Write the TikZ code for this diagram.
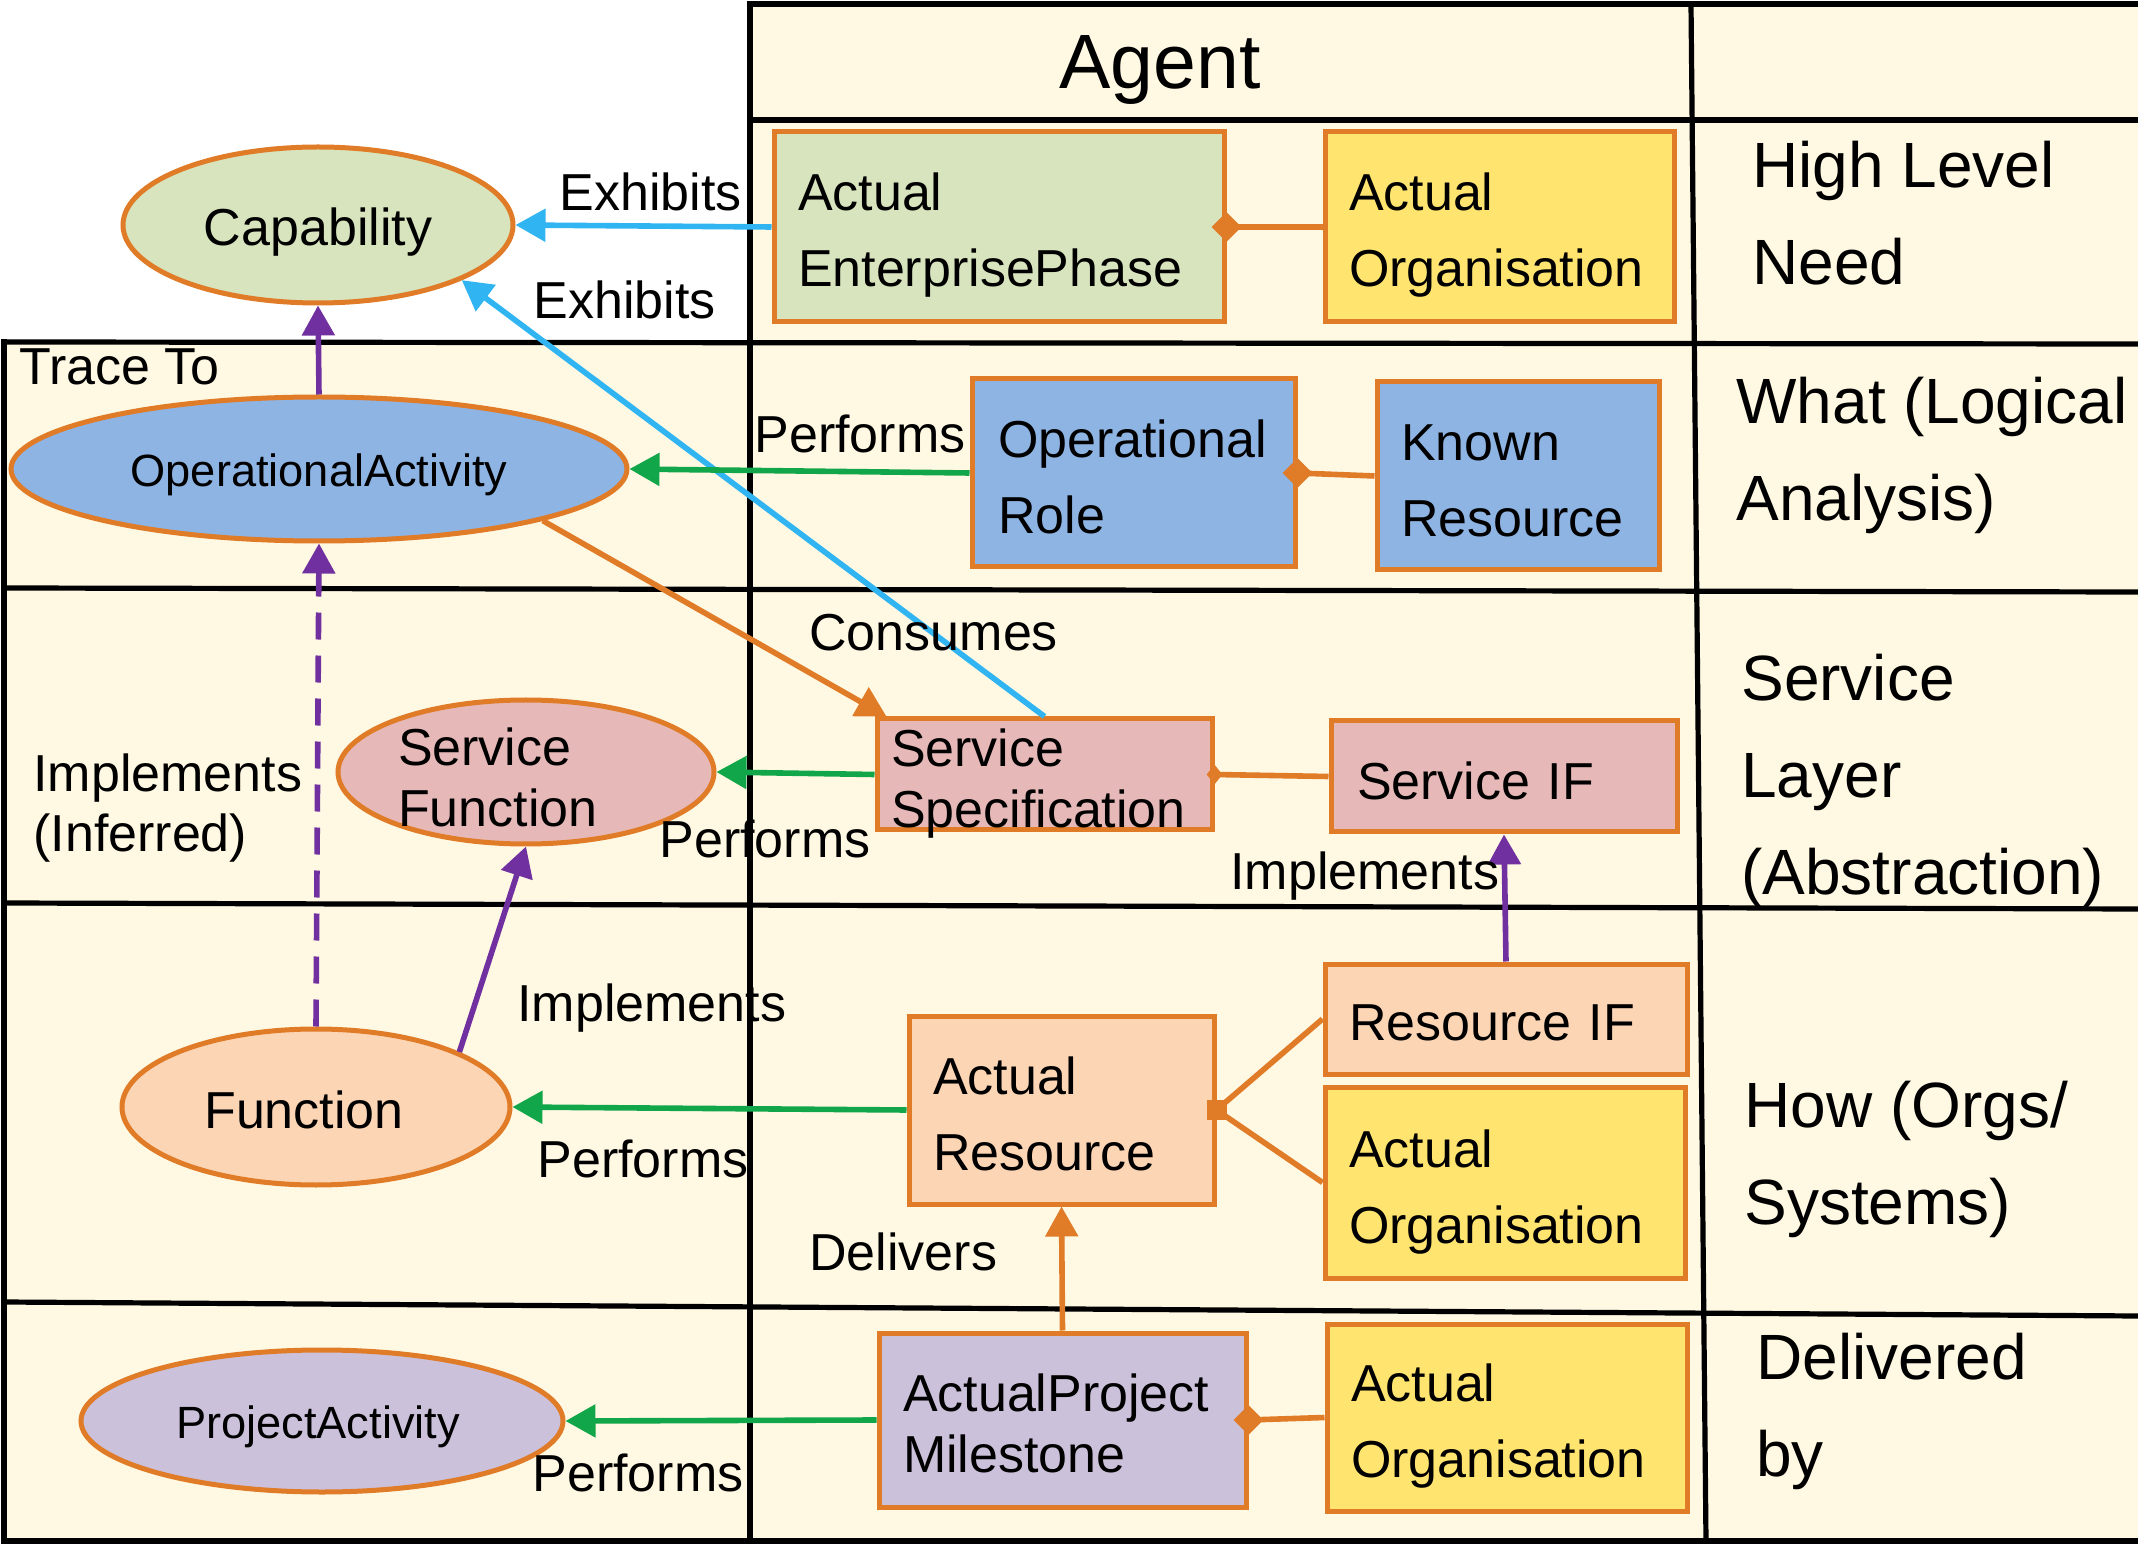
\documentclass[tikz,border=0pt]{standalone}
\usepackage{fontspec}
\setmainfont{Liberation Sans}
\usetikzlibrary{arrows.meta,shapes.geometric}
\definecolor{ocol}{HTML}{E07B28}
\definecolor{cblu}{HTML}{30B4F2}
\definecolor{cgrn}{HTML}{12A64A}
\definecolor{cpur}{HTML}{7030A0}
\definecolor{cream}{HTML}{FFF9E3}
\definecolor{cgreen}{HTML}{D7E4BD}
\definecolor{cyellow}{HTML}{FFE570}
\definecolor{cbluefill}{HTML}{8EB4E3}
\definecolor{cpink}{HTML}{E6B9B8}
\definecolor{cpeach}{HTML}{FCD5B5}
\definecolor{clav}{HTML}{CCC1DA}
\newcommand\fnode{\fontsize{26}{38}\selectfont}
\newcommand\fnodet{\fontsize{26}{30.7}\selectfont}
\newcommand\fsm{\fontsize{22.6}{27}\selectfont}
\newcommand\fside{\fontsize{32}{48.5}\selectfont}
\newcommand\fagent{\fontsize{38.5}{46}\selectfont}
\newcommand\finf{\fontsize{26}{30}\selectfont}
\newcommand\st[1]{\rule{0pt}{#1pt}}
\begin{document}
\begin{tikzpicture}[x=0.5pt,y=-0.5pt,
  tline/.style={line width=2.6pt,black,line cap=rect},
  box/.style={draw=ocol,line width=2.5pt,inner xsep=12pt,inner ysep=0pt,align=left,font=\fnode},
  ell/.style={ellipse,draw=ocol,line width=2.5pt,inner sep=0pt,font=\fnode},
  lbl/.style={font=\fnode,inner sep=0pt,anchor=west},
  side/.style={font=\fside,align=left,inner sep=0pt,anchor=west},
  arr/.style={line width=2.8pt,-{Triangle[length=15pt,width=16pt]}},
  arrblue/.style={arr,draw=cblu},
  arrgreen/.style={arr,draw=cgrn},
  arrpurple/.style={arr,draw=cpur},
  arrorange/.style={arr,draw=ocol},
  conn/.style={draw=ocol,line width=2.8pt},
  diam/.style={diamond,fill=ocol,inner sep=0pt,minimum width=15pt,minimum height=15pt}]
\useasboundingbox (0,0) rectangle (2138,1545);
% table background
\fill[cream] (750,4) rectangle (2138,1541);
\fill[cream] (4,341) rectangle (750,1541);
% table lines
\draw[tline] (750,4) -- (2138,4);
\draw[tline] (750,120) -- (2138,120);
\draw[tline] (4,342) -- (2138,344);
\draw[tline] (4,588) -- (2138,592);
\draw[tline] (4,903) -- (2138,909);
\draw[tline] (4,1302) -- (2138,1316);
\draw[tline] (4,1541) -- (2138,1541);
\draw[tline] (4,342) -- (4,1541);
\draw[tline] (750,4) -- (750,1541);
\draw[tline] (1691,4) -- (1706,1541);
% nodes
\node[ell,fill=cgreen,minimum width=195pt,minimum height=78pt] (cap) at (318,225) {\st{26}Capability};
\node[ell,fill=cbluefill,minimum width=308pt,minimum height=72pt,font=\fsm] (oa) at (319,469) {\st{22}OperationalActivity};
\node[ell,fill=cpink,minimum width=188pt,minimum height=72pt,font=\fnodet,text width=128pt,align=left,inner sep=-5pt] (sf) at (526,772) {\st{24.5}Service\\Function};
\node[ell,fill=cpeach,minimum width=194pt,minimum height=78pt] (fn) at (316,1107) {\st{22}Function\hspace*{12pt}};
\node[ell,fill=clav,minimum width=241pt,minimum height=71pt,font=\fsm] (pa) at (322,1421) {\st{22}ProjectActivity\hspace*{4pt}};

\node[box,fill=cgreen,text width=201pt,minimum height=95pt] (ep) at (999,227) {\st{27}Actual\\EnterprisePhase};
\node[box,fill=cyellow,text width=150.5pt,minimum height=95pt] (ao1) at (1499.5,227) {\st{27}Actual\\Organisation};
\node[box,fill=cbluefill,inner xsep=13pt,text width=135.5pt,minimum height=94pt] (or) at (1133.5,473) {\st{22.5}Operational\\Role};
\node[box,fill=cbluefill,text width=117pt,minimum height=94pt] (kr) at (1518,476) {\st{22.5}Known\\Resource};
\node[box,fill=cpink,inner xsep=7pt,text width=153.5pt,minimum height=55.5pt,font=\fnodet,inner ysep=-5pt] (ss) at (1044.5,774.5) {\st{28}Service\\Specification};
\node[box,fill=cpink,inner xsep=13pt,text width=147pt,minimum height=55.5pt] (sif) at (1504,776.5) {\st{23}Service IF};
\node[box,fill=cpeach,text width=128.5pt,minimum height=94pt] (ar) at (1061.5,1110) {\st{22.5}Actual\\Resource};
\node[box,fill=cpeach,text width=157pt,minimum height=55pt] (rif) at (1506,1019) {\st{22}Resource IF};
\node[box,fill=cyellow,text width=156pt,minimum height=95.5pt] (ao2) at (1505,1182.5) {\st{28}Actual\\Organisation};
\node[box,fill=clav,text width=159.5pt,minimum height=87pt,font=\fnodet] (apm) at (1062.5,1420) {\st{22}ActualProject\\Milestone};
\node[box,fill=cyellow,text width=156pt,minimum height=93.5pt] (ao3) at (1507,1417.5) {\st{27.5}Actual\\Organisation};

% connectors
\draw[conn] (ep.east) -- (ao1.west);
\draw[conn] (or.east) -- (kr.west);
\draw[conn] (ss.east) -- (sif.west);
\draw[conn] (ar.east) -- (rif.west);
\draw[conn] (ar.east) -- (ao2.west);
\draw[conn] (apm.east) -- (ao3.west);
\node[diam] (d1) at (ep.east) {};
\node[diam] (d2) at (or.east) {};
\node[diam,minimum width=8pt,minimum height=10pt] (d3) at (ss.east) {};
\node[rectangle,fill=ocol,inner sep=0pt,minimum width=10pt,minimum height=10pt] (d4) at (ar.east) {};
\node[diam] (d5) at (apm.east) {};

\draw[arrblue] (ep.west) -- (cap.east);
\draw[arrblue] (ss.north) -- (cap.-21);
\draw[arrpurple] (oa.north) -- (cap.south);
\draw[arrgreen] (or.west) -- (oa.east);
\draw[arrorange] (oa.-13) -- ([xshift=6pt]ss.north west);
\draw[arrgreen] (ss.west) -- (sf.east);
\draw[arrpurple,dash pattern=on 13.5pt off 8pt] (fn.north) -- (oa.south);
\draw[arrpurple] (fn.21) -- (sf.south);
\draw[arrpurple] (rif.north) -- (sif.south);
\draw[arrgreen] (ar.west) -- (fn.east);
\draw[arrorange] (apm.north) -- (ar.south);
\draw[arrgreen] (apm.west) -- (pa.east);

% labels
\node[font=\fagent,inner sep=0pt] (agent) at (1160,70) {Agent};
\node[lbl] (lex1) at (559,192) {Exhibits};
\node[lbl] (lex2) at (533,300) {Exhibits};
\node[lbl] (ltr) at (19,367) {Trace To};
\node[lbl] (lpf1) at (754,434) {Performs};
\node[lbl] (lcon) at (809,633) {Consumes};
\node[lbl] (lpf2) at (659,839) {Performs};
\node[lbl,font=\finf,align=left] (limi) at (33,808) {Implements\\(Inferred)};
\node[lbl] (lim2) at (517,1008) {Implements};
\node[lbl] (lim3) at (1230,876) {Implements};
\node[lbl] (lpf3) at (537,1159) {Performs};
\node[lbl] (ldel) at (809,1252) {Delivers};
\node[lbl] (lpf4) at (532,1473) {Performs};

\node[side] (s1) at (1752,213) {High Level\\Need};
\node[side] (s2) at (1736,455) {What (Logical\\Analysis)};
\node[side] (s3) at (1741,781) {Service\\Layer\\(Abstraction)};
\node[side] (s4) at (1744,1159) {How (Orgs/\\Systems)};
\node[side] (s5) at (1756,1411) {Delivered\\by};
\end{tikzpicture}
\end{document}
